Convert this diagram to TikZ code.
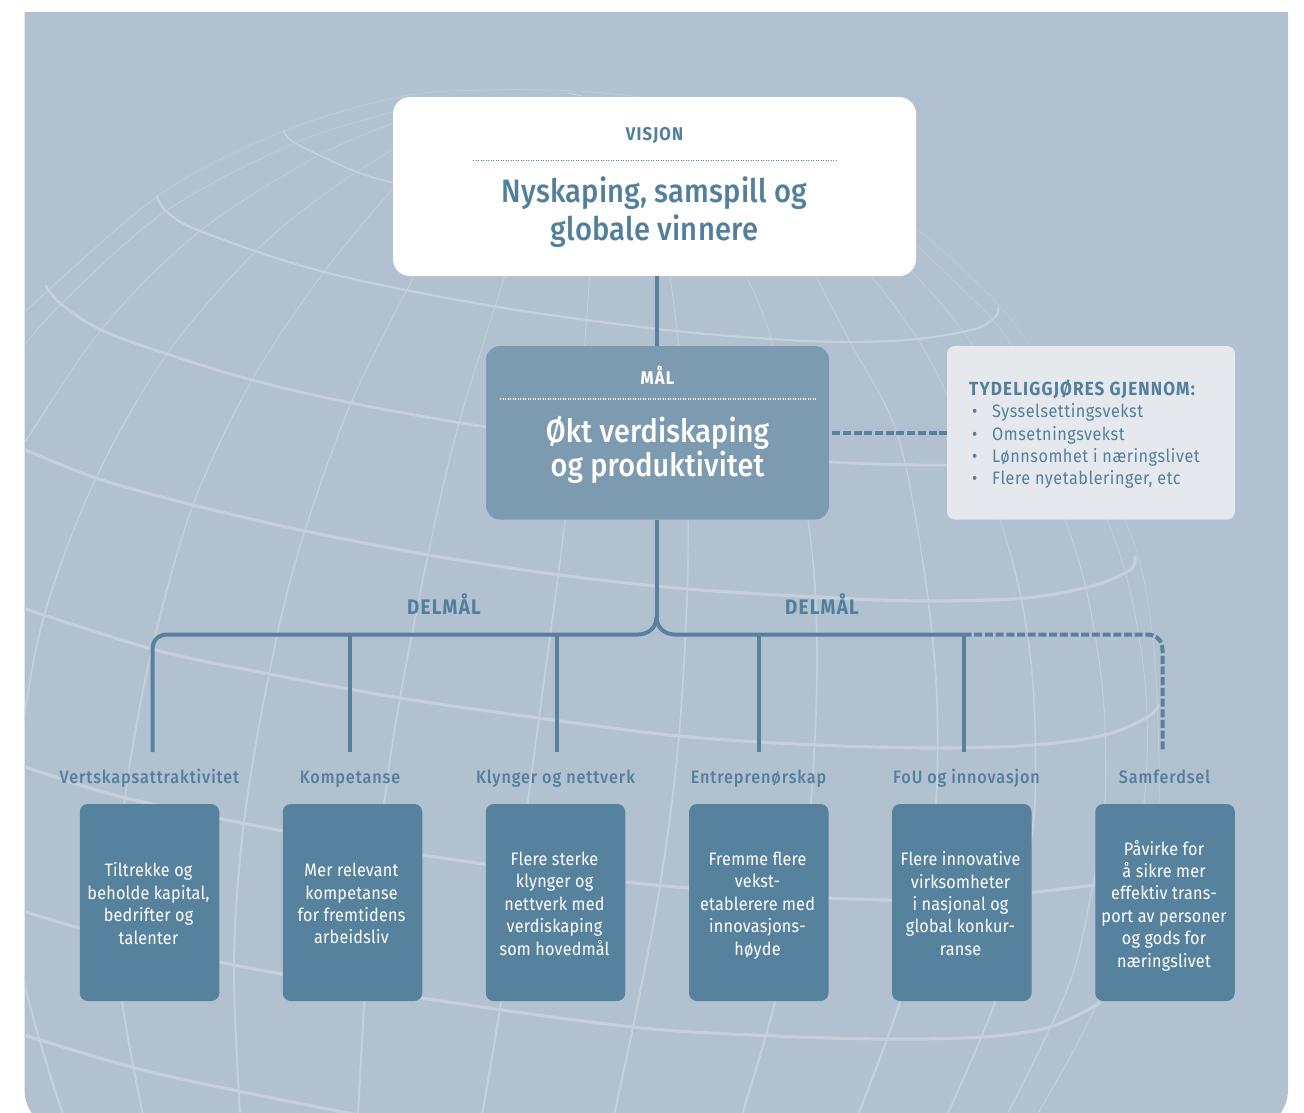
\documentclass[tikz,border=0pt]{standalone}
\usepackage{fontspec}
\setmainfont[FakeStretch=0.9,LetterSpace=1.2]{Fira Sans}
\newfontfamily\lblf[FakeStretch=0.9,LetterSpace=5]{Fira Sans Medium}
\newfontfamily\titlef[FakeStretch=0.9,LetterSpace=.5]{Fira Sans Medium}
\newfontfamily\headf[FakeStretch=0.9,LetterSpace=6]{Fira Sans}
\newfontfamily\listf[FakeStretch=0.9,LetterSpace=3]{Fira Sans}
\definecolor{panel}{HTML}{B2C1CF}
\definecolor{gridc}{HTML}{C5D0DC}
\definecolor{dark}{HTML}{56829D}
\definecolor{midb}{HTML}{7C9AB0}
\definecolor{pale}{HTML}{E5E9ED}
\definecolor{ink}{HTML}{527F9B}
\newcommand\gband[5]{\begin{scope}\clip (0,#1) rectangle (1304,#2);
  \draw[gridc,line width=#3*#4 pt] plot[smooth,tension=.55] coordinates {#5};\end{scope}}
\newcommand\merid[2]{%
  \gband{-5}{200}{.5}{#1}{#2}\gband{200}{400}{.8}{#1}{#2}\gband{400}{560}{1.2}{#1}{#2}%
  \gband{560}{800}{1.7}{#1}{#2}\gband{800}{1115}{2.1}{#1}{#2}}
\newcommand\lat[2]{\draw[gridc,line width=#1pt,line cap=round] plot[smooth,tension=.55] coordinates {#2};}
\newcommand\stA{\rule[-5pt]{0pt}{20pt}}
\tikzset{
  subbox/.style={fill=dark,rounded corners=8pt,minimum width=139.5pt,minimum height=197pt,inner sep=0pt},
  subtxt/.style={text=white,align=center,inner sep=0pt,font=\fontsize{18}{22.4}\selectfont,
     execute at begin node=\stA,execute at end node=\stA},
  sublab/.style={text=ink,inner sep=0pt,anchor=base,font=\lblf\fontsize{18}{20}\selectfont},
  headt/.style={inner sep=0pt,anchor=base,font=\headf\bfseries\fontsize{18.5}{20}\selectfont},
  delm/.style={text=ink,inner sep=0pt,anchor=base,font=\headf\bfseries\fontsize{21}{22}\selectfont},
  conn/.style={dark,line width=4pt},
  dashh/.style={dark,line width=4pt,dash pattern=on 8pt off 2.7pt},
  dots/.style={line width=1.4pt,dash pattern=on 1.3pt off 1.2pt},
}
\begin{document}
\begin{tikzpicture}[x=1pt,y=-1pt]
\useasboundingbox (0,0) rectangle (1304,1112);
\begin{scope}
\clip (0,0) rectangle (1304,1112);
\fill[panel,rounded corners=40pt] (24.5,12) [sharp corners] -- (1288,12) [rounded corners=40pt] -- (1288,1130) -- (24.5,1130) [sharp corners] -- cycle;
\clip[rounded corners=40pt] (24.5,12) [sharp corners] -- (1288,12) [rounded corners=40pt] -- (1288,1130) -- (24.5,1130) [sharp corners] -- cycle;
% latitudes
\lat{.9}{(568,93)(583,96)}
\lat{1.6}{(284,131)(295,143)(354,171)(393,183)(420,192)}
\lat{2.2}{(157,196)(166,211)(200,231)(324,272)(492,306)(658,329)(771,339)(850,342)(917,339)(975,329)(996,316)(998,308)}
\lat{2.8}{(46,286)(61,304)(101,330)(167,354)(252,380)(351,403)(486,427)(650,450)(829,462)(947,465)(1020,460)}
\lat{3.2}{(14,445)(96,478)(193,505)(305,531)(429,555)(560,575)(688,589)(817,597)(921,601)(1025,598)(1092,586)(1130,570)(1135,557)}
\lat{3.2}{(14,605)(152,649)(269,674)(400,698)(539,718)(679,736)(817,745)(938,748)(1034,745)(1105,735)(1146,718)(1159,705)}
\lat{3.2}{(14,763)(122,797)(283,831)(422,855)(625,882)(829,898)(960,899)(1095,885)}
\lat{3.2}{(14,908)(80,928)(219,962)(422,998)(633,1027)(775,1036)(886,1039)(983,1037)(1050,1027)(1100,1003)}
\lat{3.2}{(14,1032)(135,1068)(238,1091)(358,1115)}
% meridians, left
\merid{.9}{(14,322)(158,196)(284,131)(404,96)(490,90)(577,91)(640,97)}
\merid{1}{(14,358)(61,304)(166,211)(295,143)(396,111)(420,106)}
\merid{1}{(14,460)(101,330)(200,231)(316,157)(393,123)(420,113)}
\merid{1}{(400,145)(330,190)(255,252)(167,354)(96,478)(44,616)(20,750)(15,860)(25,984)(63,1115)}
\merid{1}{(400,180)(324,272)(252,380)(193,505)(152,649)(126,790)(118,900)(122,1000)(143,1115)}
\merid{1}{(420,265)(351,403)(299,550)(269,674)(244,822)(234,962)(240,1115)}
\merid{1}{(510,260)(459,423)(429,550)(400,698)(385,797)(368,950)(358,1115)}
\merid{1}{(590,270)(580,400)(560,561)(539,718)(520,860)(501,1002)(482,1115)}
\merid{1}{(668,260)(684,400)(688,560)(679,736)(660,886)(633,1027)(614,1115)}
% meridians, right
\merid{1}{(740,265)(771,339)(808,520)(817,650)(811,801)(795,900)(775,1002)(742,1115)}
\merid{1}{(810,265)(850,342)(896,430)(921,550)(936,680)(936,804)(922,910)(900,1002)(858,1115)}
\merid{.85}{(871,276)(930,360)(1000,520)(1030,653)(1035,800)(1020,900)(995,1002)(947,1115)}
\merid{.65}{(905,265)(973,346)(1065,520)(1100,667)(1105,803)(1090,900)(1067,990)(1007,1115)}
\merid{.45}{(900,230)(960,287)(1012,346)(1107,520)(1140,643)(1147,760)(1130,900)(1094,1010)(1037,1115)}
\merid{.3}{(900,215)(967,273)(1030,346)(1125,520)(1153,640)(1160,810)}
\end{scope}
% boxes
\node[fill=white,rounded corners=17pt,minimum width=523pt,minimum height=179pt,inner sep=0pt] (vision) at (654.5,186.5) {};
\node[fill=midb,rounded corners=14pt,minimum width=343pt,minimum height=173.5pt,inner sep=0pt] (goal) at (657.5,432.75) {};
\node[fill=pale,rounded corners=8pt,minimum width=288pt,minimum height=173.5pt,inner sep=0pt] (info) at (1091,432.75) {};
\coordinate (j) at (656.5,617);
\coordinate (jl) at (638,634.5);
\coordinate (jr) at (675,634.5);
\coordinate (d1) at (152.5,752);
\coordinate (d2) at (349.5,752);
\coordinate (d3) at (556.5,752);
\coordinate (d4) at (758.5,752);
\coordinate (d5) at (963.5,752);
\coordinate (d6) at (1162.5,752);
\coordinate (c1) at (168,634.5);
\coordinate (c6) at (1147,634.5);
\draw[conn] (vision.south -| j) -- (goal.north -| j);
\draw[conn] (goal.south -| j) -- (j);
\draw[conn] (j) .. controls (656.5,628) and (648,634.5) .. (jl) -- (c1) .. controls (158,634.5) and (152.5,640) .. (152.5,650) -- (d1);
\draw[conn] (j) .. controls (656.5,628) and (665,634.5) .. (jr) -- (d5 |- jr);
\draw[conn] (d2 |- jl) -- (d2);
\draw[conn] (d3 |- jl) -- (d3);
\draw[conn] (d4 |- jl) -- (d4);
\draw[conn] (d5 |- jl) -- (d5);
\draw[dashh] (d5 |- jl) -- (c6) .. controls (1156,634.5) and (1162.5,640) .. (1162.5,650) -- (d6);
\draw[dashh] ([xshift=3pt]goal.east) -- (info.west);
% box texts
\node[headt,text=ink] (vl) at (654.5,140) {VISJON};
\coordinate (va) at (473,160.5); \coordinate (vb) at (837,160.5);
\draw[dots,ink] (va) -- (vb);
\node[text=ink,align=center,inner sep=0pt,font=\titlef\fontsize{32.4}{37.5}\selectfont] (vt) at (654.5,212) {Nyskaping, samspill og\\globale vinnere};
\node[headt,text=white] (gl) at (657.5,384) {MÅL};
\coordinate (ga) at (500,399); \coordinate (gb) at (816,399);
\draw[dots,white] (ga) -- (gb);
\node[text=white,align=center,inner sep=0pt,font=\titlef\fontsize{32}{34}\selectfont] (gt) at (657.5,450) {Økt verdiskaping\\og produktivitet};
\node[anchor=north west,inner sep=0pt,text=ink,align=left,font=\listf\fontsize{18}{22.3}\selectfont] (il) at (969,380) {{\headf\bfseries\fontsize{19}{22.3}\selectfont TYDELIGGJØRES GJENNOM:}\\[-.5pt]
\makebox[23pt][l]{\,•}Sysselsettingsvekst\\
\makebox[23pt][l]{\,•}Omsetningsvekst\\
\makebox[23pt][l]{\,•}Lønnsomhet i næringslivet\\
\makebox[23pt][l]{\,•}Flere nyetableringer, etc};
\node[delm] (dm1) at (444,614.5) {DELMÅL};
\node[delm] (dm2) at (822,614.5) {DELMÅL};
% sub goals
\node[sublab] (l1) at (149.5,783) {Vertskapsattraktivitet};
\node[sublab] (l2) at (350,783) {Kompetanse};
\node[sublab] (l3) at (555.5,783) {Klynger og nettverk};
\node[sublab] (l4) at (758.5,783) {Entreprenørskap};
\node[sublab] (l5) at (966.5,783) {FoU og innovasjon};
\node[sublab] (l6) at (1164.5,783) {Samferdsel};
\node[subbox] (b1) at (149.5,902.5) {};
\node[subbox] (b2) at (352.5,902.5) {};
\node[subbox] (b3) at (555.5,902.5) {};
\node[subbox] (b4) at (758.75,902.5) {};
\node[subbox] (b5) at (961.75,902.5) {};
\node[subbox] (b6) at (1165,902.5) {};
\node[subtxt] (t1) at (148.5,906) {Tiltrekke og\\beholde kapital,\\bedrifter og\\talenter};
\node[subtxt] (t2) at (351.5,906) {Mer relevant\\kompetanse\\for fremtidens\\arbeidsliv};
\node[subtxt] (t3) at (554.5,906) {Flere sterke\\klynger og\\nettverk med\\verdiskaping\\som hovedmål};
\node[subtxt] (t4) at (757.5,906) {Fremme flere\\vekst-\\etablerere med\\innovasjons-\\høyde};
\node[subtxt] (t5) at (960.5,906) {Flere innovative\\virksomheter\\i nasjonal og\\global konkur-\\ranse};
\node[subtxt] (t6) at (1164,906) {Påvirke for\\å sikre mer\\effektiv trans-\\port av personer\\og gods for\\næringslivet};
\end{tikzpicture}
\end{document}
